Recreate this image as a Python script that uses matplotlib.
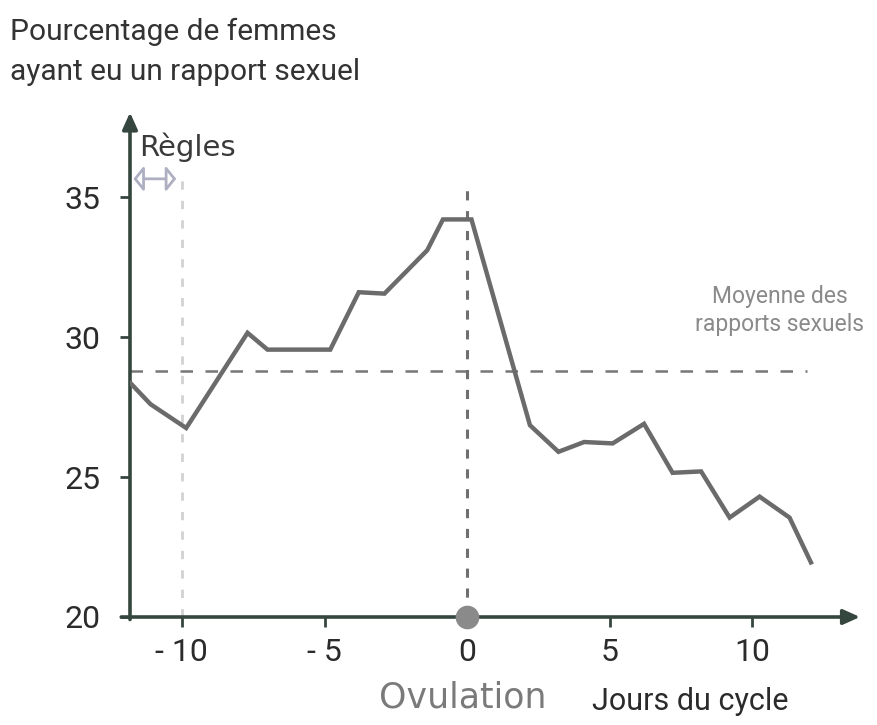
import matplotlib
matplotlib.use("Agg")
import matplotlib.pyplot as plt
from matplotlib import font_manager

# data (day relative to ovulation, % of women)
days = [-11.8, -11.1, -9.85, -7.7, -7.0, -4.8, -3.8, -2.9, -1.4, -0.85, 0.15,
        2.2, 3.2, 4.1, 5.1, 6.2, 7.2, 8.2, 9.2, 10.25, 11.3, 12.05]
pct = [28.35, 27.6, 26.75, 30.15, 29.55, 29.55, 31.6, 31.55, 33.1, 34.2, 34.2,
       26.85, 25.9, 26.25, 26.2, 26.9, 25.15, 25.2, 23.55, 24.3, 23.55, 21.95]
mean_pct = 28.8
x_ticks = [-10, -5, 0, 5, 10]
x_labels = ["- 10", "- 5", "0", "5", "10"]
y_ticks = [20, 25, 30, 35]
regles_day = -10
ovulation_day = 0

names = {f.name for f in font_manager.fontManager.ttflist}
narrow = "Liberation Sans Narrow" if "Liberation Sans Narrow" in names else "Roboto"

AXIS = "#35463f"
LINE = "#6b6b6b"

fig = plt.figure(figsize=(8.78, 7.25), dpi=100)
ax = fig.add_axes([130 / 878, 108 / 725, 730 / 878, 502 / 725])
ax.set_xlim(-11.82, 13.77)
ax.set_ylim(20, 37.93)

for s in ["top", "right", "left", "bottom"]:
    ax.spines[s].set_visible(False)

# axes with arrows
ax.annotate("", xy=(1, 0), xytext=(-0.012, 0), xycoords="axes fraction",
            arrowprops=dict(arrowstyle="-|>,head_length=1.0,head_width=0.45",
                            color=AXIS, lw=2.6, shrinkA=0, shrinkB=0))
ax.annotate("", xy=(0, 1.005), xytext=(0, -0.005), xycoords="axes fraction",
            arrowprops=dict(arrowstyle="-|>,head_length=1.0,head_width=0.45",
                            color=AXIS, lw=2.6, shrinkA=0, shrinkB=0))

ax.set_xticks(x_ticks)
ax.set_xticklabels(x_labels)
ax.set_yticks(y_ticks)
ax.tick_params(direction="out", length=7, width=2, color=AXIS, labelcolor="#2b2b2b",
               labelsize=23, pad=8)
for lab in ax.get_xticklabels() + ax.get_yticklabels():
    lab.set_fontfamily(narrow)
ax.tick_params(axis="y", pad=14)

# reference lines
ax.axhline(mean_pct, xmin=0, xmax=(11.9 + 11.82) / 25.59, color="#777777",
           lw=1.8, ls=(0, (5, 5)))
ax.plot([ovulation_day, ovulation_day], [20, 35.5], color="#6f6f6f", lw=2.2,
        ls=(0, (3, 3.5)))
ax.plot([regles_day, regles_day], [20, 35.6], color="#d2d2d2", lw=2,
        ls=(0, (3, 4)))

# main curve
ax.plot(days, pct, color=LINE, lw=3.2, solid_joinstyle="miter", zorder=3)

# ovulation marker
ax.plot([ovulation_day], [20], "o", ms=16, color="#8a8a8a", clip_on=False, zorder=5)

# Règles double arrow
ax.annotate("", xy=(-11.7, 35.65), xytext=(-10.2, 35.65),
            arrowprops=dict(arrowstyle="<|-|>,head_length=0.6,head_width=0.75",
                            fc="white", ec="#aeb0c2", lw=2.0, shrinkA=0, shrinkB=0))
ax.text(-11.5, 36.78, "Règles", fontsize=21, color="#3a3a3a", va="center",
        ha="left", family="DejaVu Sans")

ax.text(10.95, 30.95, "Moyenne des\nrapports sexuels", fontsize=16.5, color="#8a8a8a",
        ha="center", va="center", family=narrow, linespacing=1.3)

# titles / labels
fig.text(10 / 878, 1 - 32 / 725, "Pourcentage de femmes", fontsize=21.5, color="#333333",
         family=narrow, va="center", ha="left")
fig.text(10 / 878, 1 - 72 / 725, "ayant eu un rapport sexuel", fontsize=21.5,
         color="#333333", family=narrow, va="center", ha="left")
fig.text(463 / 878, 1 - 698 / 725, "Ovulation", fontsize=25, color="#7a7a7a",
         family="DejaVu Sans", va="center", ha="center")
fig.text(690 / 878, 1 - 702 / 725, "Jours du cycle", fontsize=22, color="#2b2b2b",
         family=narrow, va="center", ha="center")

fig.savefig("out.png", dpi=100)
